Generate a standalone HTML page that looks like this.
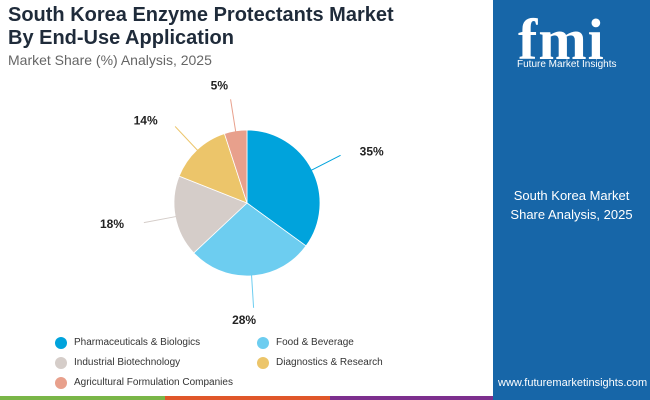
<!DOCTYPE html>
<html><head><meta charset="utf-8"><style>
body{margin:0;width:650px;height:400px;overflow:hidden;background:#fff;font-family:"Liberation Sans",sans-serif;position:relative}
.t{position:absolute;left:8px;font-weight:bold;color:#1f2b3a;font-size:20px;line-height:23px}
.panel{position:absolute;left:493px;top:0;width:157px;height:400px;background:#1766a8}
.bar{position:absolute;top:396px;height:4px}
</style></head><body>
<div class="t" style="top:4px">South Korea Enzyme Protectants Market<br>By End-Use Application</div>
<div style="position:absolute;left:8px;top:52px;font-size:14px;color:#666">Market Share (%) Analysis, 2025</div>
<div class="panel">
 <div style="position:absolute;left:25px;top:6px;font-size:58px;font-weight:bold;color:#fff;font-family:'Liberation Serif',serif;letter-spacing:1px">fmi</div>
 <div style="position:absolute;left:24px;top:59px;font-size:10px;color:#fff">Future Market Insights</div>
 <div style="position:absolute;left:0;width:157px;top:186px;font-size:13px;color:#fff;text-align:center;line-height:19px">South Korea Market<br>Share Analysis, 2025</div>
 <div style="position:absolute;left:5px;top:377px;font-size:11px;color:#fff">www.futuremarketinsights.com</div>
</div>
<div class="bar" style="left:0;width:165px;background:#7ab648"></div>
<div class="bar" style="left:165px;width:165px;background:#e0572a"></div>
<div class="bar" style="left:330px;width:163px;background:#7d2f8e"></div>
<svg id="pie" width="493" height="335" style="position:absolute;left:0;top:0"></svg>
<div id="legend"></div>
<script>
const categories=["Pharmaceuticals & Biologics","Food & Beverage","Industrial Biotechnology","Diagnostics & Research","Agricultural Formulation Companies"];
const values=[35,28,18,14,5];
const labels=["35%","28%","18%","14%","5%"];
const colors=["#00a3dc","#6dcdf0","#d5cdc9","#ecc56a","#e8a08c"];
const svg=document.getElementById('pie');const NS="http://www.w3.org/2000/svg";
const cx=247,cy=203,r=73;const total=values.reduce((a,b)=>a+b,0);
function pt(a,rr){return [cx+rr*Math.sin(a),cy-rr*Math.cos(a)];}
let a0=0;
values.forEach((v,i)=>{
 const a1=a0+v/total*2*Math.PI;const p0=pt(a0,r),p1=pt(a1,r);
 const p=document.createElementNS(NS,'path');
 p.setAttribute('d',`M${cx},${cy}L${p0[0]},${p0[1]}A${r},${r} 0 ${a1-a0>Math.PI?1:0} 1 ${p1[0]},${p1[1]}Z`);
 p.setAttribute('fill',colors[i]);p.setAttribute('stroke','#fff');p.setAttribute('stroke-width','0.8');
 
 
 svg.appendChild(p);
 const m=(a0+a1)/2;const l0=pt(m,r-2),l1=pt(m,r+32);
 const ln=document.createElementNS(NS,'line');
 ln.setAttribute('x1',l0[0]);ln.setAttribute('y1',l0[1]);ln.setAttribute('x2',l1[0]);ln.setAttribute('y2',l1[1]);
 ln.setAttribute('stroke',colors[i]);ln.setAttribute('stroke-width','1');
 
 
 svg.appendChild(ln);
 const s=Math.sin(m),c=Math.cos(m);const lp=pt(m,r+40);
 const t=document.createElementNS(NS,'text');
 t.setAttribute('x',lp[0]+(s>0.3?12:s<-0.3?-12:-10));t.setAttribute('y',lp[1]+(c<-0.5?8:c>0.8?-2:4));
 t.setAttribute('text-anchor',s>0.3?'start':s<-0.3?'end':'middle');
 t.setAttribute('font-size','12');t.setAttribute('font-weight','bold');t.setAttribute('fill','#222');
 t.setAttribute('font-family','Liberation Sans, sans-serif');
 t.textContent=labels[i];
 
 
 svg.appendChild(t);
 a0=a1;
});
const lg=document.getElementById('legend');


categories.forEach((c,i)=>{
 const col=i%2,row=Math.floor(i/2);
 const d=document.createElement('div');
 d.style.cssText=`position:absolute;left:${col?257:55}px;top:${336+row*20}px;height:14px;font-size:10px;color:#333;white-space:nowrap;line-height:14px`;
 d.innerHTML=`<span style="display:inline-block;width:12px;height:12px;border-radius:50%;background:${colors[i]};vertical-align:middle;margin-right:7px"></span><span style="vertical-align:middle">${c}</span>`;
 
 
 lg.appendChild(d);
});
</script>
</body></html>
